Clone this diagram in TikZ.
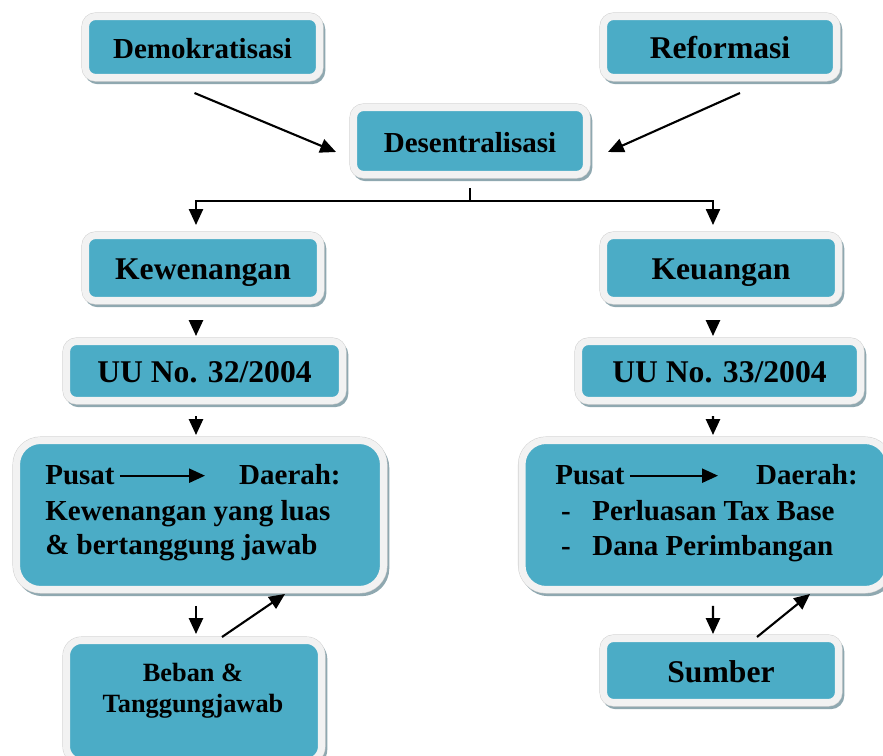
\documentclass[tikz,border=0pt]{standalone}
\usepackage{fontspec}
\setmainfont{Liberation Serif}
\usetikzlibrary{arrows.meta}
\definecolor{boxteal}{HTML}{4BACC6}
\definecolor{boxrim}{HTML}{F2F2F2}
\definecolor{rimedge}{HTML}{D2D2D2}
\definecolor{boxshadow}{HTML}{8FA8B0}
\begin{document}
\begin{tikzpicture}[x = .02cm, y = -.02cm]
	\tikzstyle{every node} = [font = \bfseries\fontsize{16.5}{20}\selectfont]
	\tikzstyle{box} = [fill = boxteal, draw = boxrim, line width = 4pt, rounded corners = .2cm,
		text height = 13.6pt, text depth = 0pt,
		preaction = {fill = boxshadow, draw = boxshadow, line width = 4pt, transform canvas = {shift = {(1.3pt,-1.8pt)}}},
		preaction = {draw = rimedge, line width = 4.6pt}]
	\tikzstyle{bigbox} = [box, rounded corners = .48cm]
	\tikzstyle{large} = [font = \bfseries\fontsize{18}{22}\selectfont]
	\tikzstyle{txt} = [inner sep = 0pt]
	\tikzstyle{arr} = [line width = 1.2pt, -{Triangle[length = 9pt, width = 8pt]}]
	\tikzstyle{smalltxt} = [txt, font = \bfseries\fontsize{15}{18}\selectfont]

	\useasboundingbox (0,0) rectangle (883,756);
	\clip (0,0) rectangle (883,756);

	%top row
	\node [box, minimum width = 4.68cm, minimum height = 1.22cm] (demo) at (202.5,47) {Demokratisasi};
	\node [box, large, minimum width = 4.66cm, minimum height = 1.22cm] (refo) at (720,47) {Reformasi};
	\node [box, minimum width = 4.66cm, minimum height = 1.34cm] (desen) at (470,141) {Desentralisasi};

	%two branches
	\node [box, large, minimum width = 4.7cm, minimum height = 1.3cm] (kewen) at (203,268) {Kewenangan};
	\node [box, large, minimum width = 4.7cm, minimum height = 1.3cm] (keuan) at (721,268) {Keuangan};
	\node [box, large, minimum width = 5.52cm, minimum height = 1.18cm] (uu32) at (204.5,371) {UU No. 32/2004};
	\node [box, large, minimum width = 5.64cm, minimum height = 1.18cm] (uu33) at (719.5,371) {UU No. 33/2004};
	\node [bigbox, minimum width = 7.34cm, minimum height = 2.98cm] (pleft) at (200,515) {};
	\node [bigbox, minimum width = 7.34cm, minimum height = 2.98cm] (pright) at (705.5,515) {};
	\node [box, rounded corners = .3cm, minimum width = 5.1cm, minimum height = 2.42cm] (beban) at (194,701) {};
	\node [box, large, minimum width = 4.7cm, minimum height = 1.28cm] (sumber) at (721,670.5) {Sumber};

	%text in the big boxes
	\node [txt, anchor = base west] (pusatL) at (45,485) {Pusat};
	\node [txt, anchor = base east] (daerahL) at (341,485) {Daerah:};
	\node [txt, anchor = base west] (kewL) at (45,521) {Kewenangan yang luas};
	\node [txt, anchor = base west] (jawabL) at (45,555) {\& bertanggung jawab};
	\draw [arr, line width = 1pt] ([shift = {(5,0)}]pusatL.east) -- ++(85,0) coordinate (tipL);

	\node [txt, anchor = base west] (pusatR) at (555,485) {Pusat};
	\node [txt, anchor = base east] (daerahR) at (858,485) {Daerah:};
	\node [txt, anchor = base] (dash1) at (566,521) {-};
	\node [txt, anchor = base west] (taxR) at (592,521) {Perluasan Tax Base};
	\node [txt, anchor = base] (dash2) at (566,556) {-};
	\node [txt, anchor = base west] (danaR) at (592,556) {Dana Perimbangan};
	\draw [arr, line width = 1pt] ([shift = {(5,0)}]pusatR.east) -- ++(88,0) coordinate (tipR);

	\node [smalltxt, anchor = base] (bebanT) at (193,682) {Beban \&};
	\node [smalltxt, anchor = base] (tanggungT) at (193,713) {Tanggungjawab};

	%connectors
	\draw [arr] ([shift = {(-8,12)}]demo.south) -- ([shift = {(-14,11)}]desen.west);
	\draw [arr] ([shift = {(20,12)}]refo.south) -- ([shift = {(18,11)}]desen.east);
	\draw [line width = 1pt] ([shift = {(0,10)}]desen.south) -- ++(0,13) coordinate (fork);
	\draw [arr, line width = 1pt] (fork) -| ([shift = {(-7,-7)}]kewen.north);
	\draw [arr, line width = 1pt] (fork) -| ([shift = {(-8,-7)}]keuan.north);

	\draw [arr] ([shift = {(-7,17)}]kewen.south) -- ([shift = {(-8.5,-2)}]uu32.north);
	\draw [arr] ([shift = {(-8,17)}]keuan.south) -- ([shift = {(-6.5,-2)}]uu33.north);
	\draw [arr] ([shift = {(-8.5,12)}]uu32.south) -- ([shift = {(-4,-2)}]pleft.north);
	\draw [arr] ([shift = {(-6.5,12)}]uu33.south) -- ([shift = {(7.5,-2)}]pright.north);

	\draw [arr] ([shift = {(-4,13)}]pleft.south) -- ([shift = {(2,-3)}]beban.north);
	\draw [arr] ([shift = {(28,0)}]beban.north) -- ([shift = {(85,1)}]pleft.south);
	\draw [arr] ([shift = {(7.5,13)}]pright.south) -- ([shift = {(-8,-1)}]sumber.north);
	\draw [arr] ([shift = {(36,2)}]sumber.north) -- ([shift = {(104.5,1)}]pright.south);
\end{tikzpicture}
\end{document}
